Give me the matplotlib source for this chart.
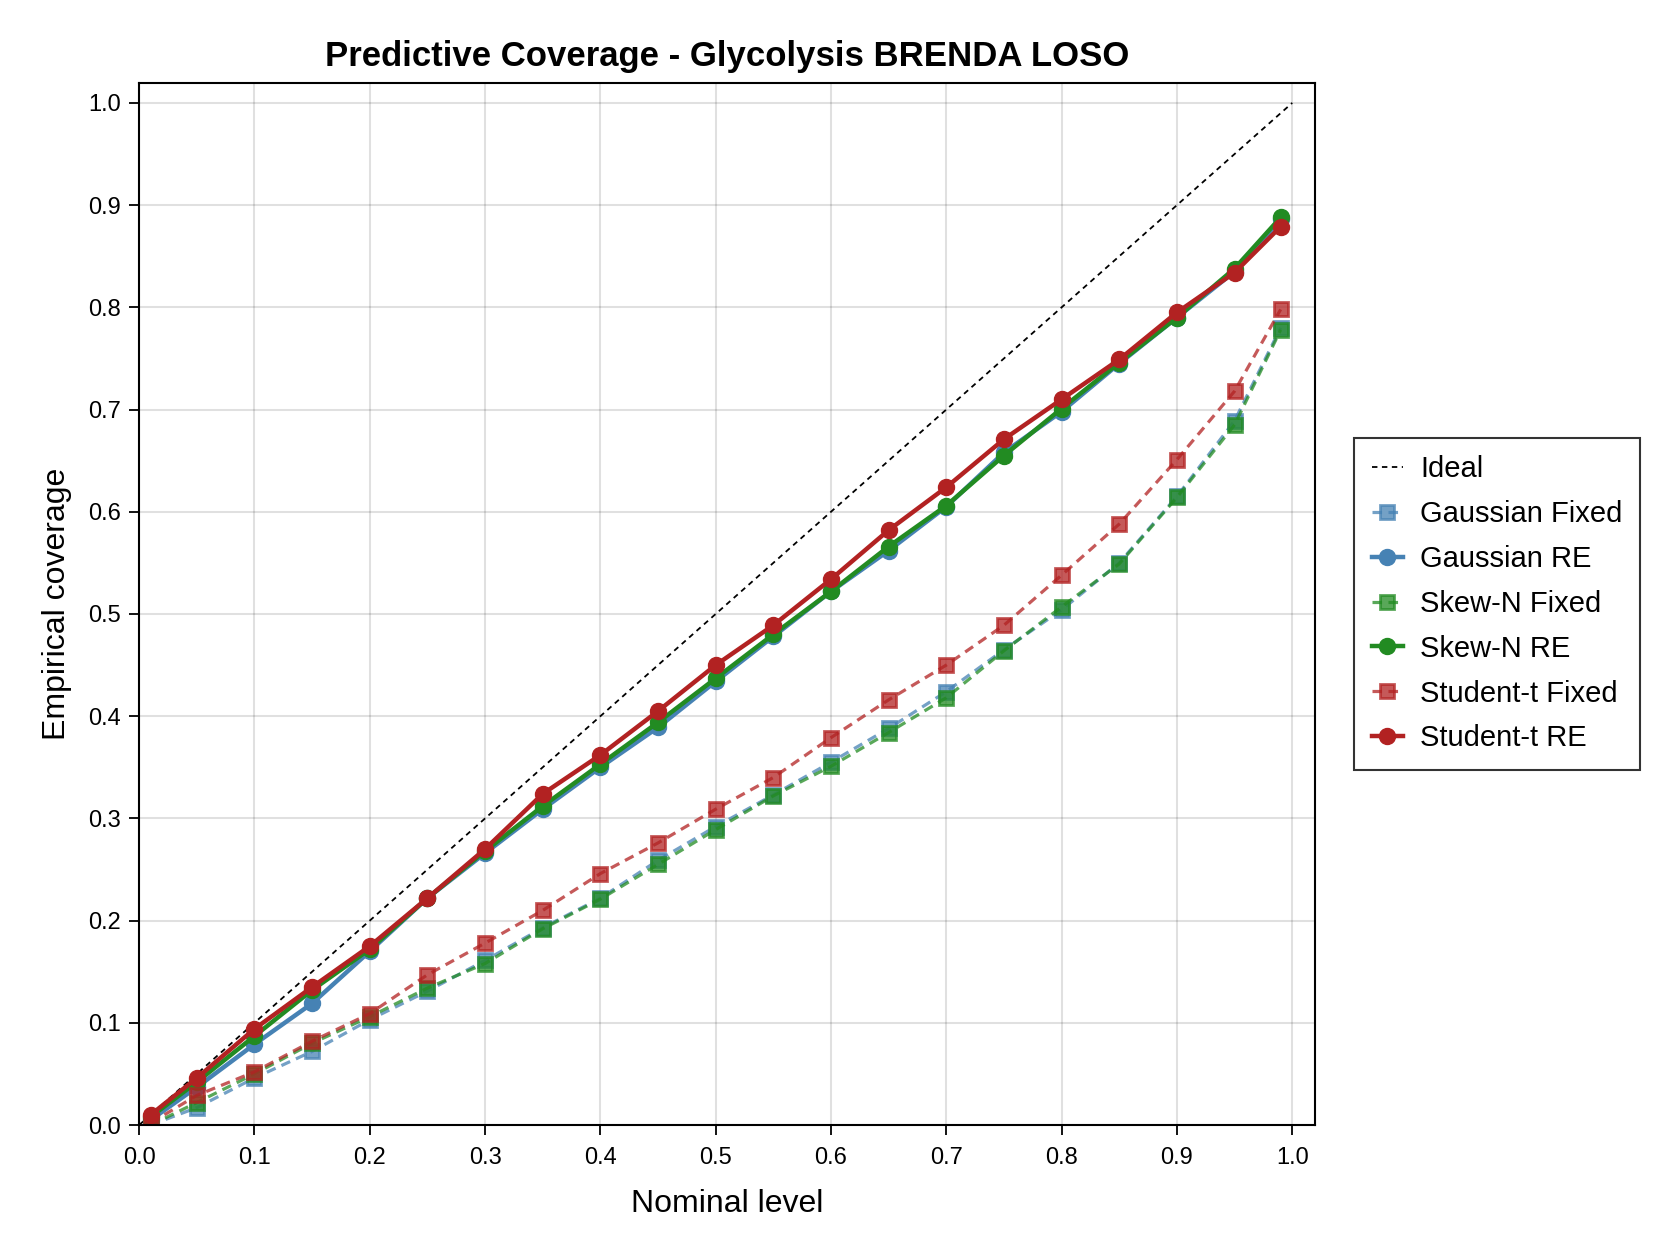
import matplotlib
matplotlib.use("Agg")
import matplotlib.pyplot as plt

plt.rcParams['font.family'] = ['Liberation Sans', 'DejaVu Sans']

nominal = [0.01, 0.05, 0.10, 0.15, 0.20, 0.25, 0.30, 0.35, 0.40, 0.45, 0.50,
           0.55, 0.60, 0.65, 0.70, 0.75, 0.80, 0.85, 0.90, 0.95, 0.99]

gauss_fixed = [0.000, 0.017, 0.046, 0.072, 0.103, 0.131, 0.161, 0.193, 0.222, 0.259, 0.292,
               0.323, 0.355, 0.388, 0.424, 0.465, 0.504, 0.550, 0.615, 0.689, 0.780]
gauss_re = [0.005, 0.037, 0.079, 0.119, 0.170, 0.222, 0.266, 0.309, 0.350, 0.389, 0.434,
            0.478, 0.522, 0.562, 0.605, 0.658, 0.698, 0.745, 0.790, 0.835, 0.886]
skew_fixed = [0.000, 0.022, 0.050, 0.080, 0.106, 0.134, 0.158, 0.192, 0.221, 0.255, 0.289,
              0.322, 0.351, 0.384, 0.418, 0.464, 0.507, 0.549, 0.614, 0.685, 0.778]
skew_re = [0.008, 0.042, 0.087, 0.132, 0.172, 0.222, 0.268, 0.312, 0.353, 0.394, 0.437,
           0.480, 0.522, 0.566, 0.606, 0.655, 0.701, 0.746, 0.790, 0.838, 0.888]
t_fixed = [0.002, 0.029, 0.052, 0.082, 0.109, 0.147, 0.178, 0.210, 0.246, 0.276, 0.309,
           0.340, 0.379, 0.416, 0.450, 0.489, 0.538, 0.588, 0.651, 0.718, 0.798]
t_re = [0.010, 0.046, 0.094, 0.135, 0.175, 0.222, 0.270, 0.324, 0.362, 0.405, 0.450,
        0.489, 0.534, 0.582, 0.624, 0.671, 0.710, 0.749, 0.795, 0.834, 0.879]

blue = '#4682B4'
green = '#228B22'
red = '#B22222'

fig = plt.figure(figsize=(16.67, 12.5), dpi=100)
ax = fig.add_axes([0.0835, 0.1, 0.7055, 0.834])

# grid
ax.grid(True, color='black', alpha=0.12, linewidth=1.5)
ax.set_axisbelow(True)

ax.plot([0, 1], [0, 1], color='black', linestyle=(0, (3, 2.5)), linewidth=1.3, label='Ideal')

series = [
    (gauss_fixed, blue, 'Gaussian Fixed', True),
    (gauss_re, blue, 'Gaussian RE', False),
    (skew_fixed, green, 'Skew-N Fixed', True),
    (skew_re, green, 'Skew-N RE', False),
    (t_fixed, red, 'Student-t Fixed', True),
    (t_re, red, 'Student-t RE', False),
]
for vals, col, lab, fixed in series:
    if fixed:
        ax.plot(nominal, vals, color=col, linestyle=(0, (3, 2)), linewidth=2.3,
                marker='s', markersize=10, markeredgewidth=2, alpha=0.75, label=lab)
    else:
        ax.plot(nominal, vals, color=col, linestyle='-', linewidth=3.2,
                marker='o', markersize=11.5, label=lab)

ax.set_xlim(0, 1.02)
ax.set_ylim(0, 1.02)
ticks = [i / 10 for i in range(11)]
ax.set_xticks(ticks)
ax.set_yticks(ticks)
ax.set_xticklabels(['%.1f' % t for t in ticks])
ax.set_yticklabels(['%.1f' % t for t in ticks])
ax.tick_params(labelsize=17, length=7, width=1.3, pad=6)
ax.tick_params(axis='x', pad=9)
for s in ax.spines.values():
    s.set_linewidth(1.5)

ax.set_xlabel('Nominal level', fontsize=23, labelpad=14)
ax.set_ylabel('Empirical coverage', fontsize=23, labelpad=12)
ax.set_title('Predictive Coverage - Glycolysis BRENDA LOSO', fontsize=25, fontweight='bold', pad=12)

leg = ax.legend(loc='center left', bbox_to_anchor=(0.8125, 0.517), bbox_transform=fig.transFigure,
                fontsize=21, frameon=True, fancybox=False, edgecolor='black', borderaxespad=0,
                handlelength=1.05, handletextpad=0.6, borderpad=0.6, labelspacing=0.58)
leg.get_frame().set_linewidth(1.5)

fig.savefig('out.png', dpi=100)
